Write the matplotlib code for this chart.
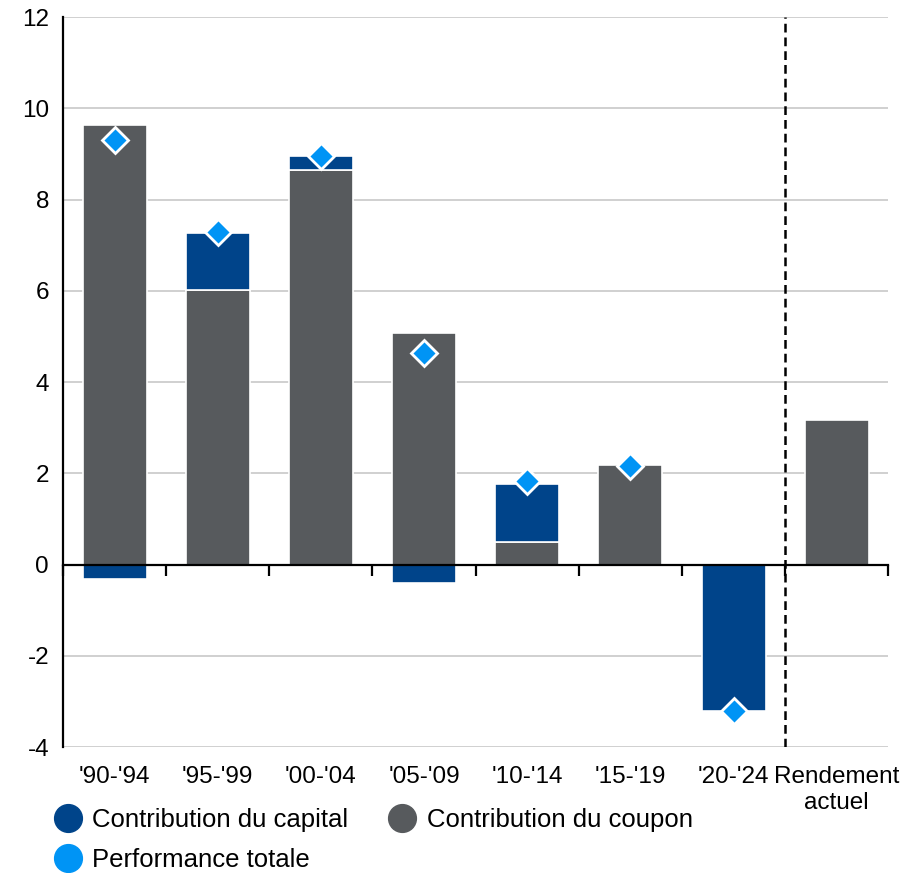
import matplotlib
matplotlib.use("Agg")
import matplotlib.pyplot as plt
import matplotlib.transforms as mtransforms
from matplotlib.lines import Line2D

categories = ["'90-'94", "'95-'99", "'00-'04", "'05-'09", "'10-'14", "'15-'19", "'20-'24", "Rendement\nactuel"]
coupon = [9.63, 6.02, 8.65, 5.08, 0.50, 2.19, 0.0, 3.17]
capital = [-0.32, 1.25, 0.31, -0.40, 1.27, 0.0, -3.20, 0.0]
total = [9.31, 7.29, 8.96, 4.64, 1.82, 2.17, -3.22, None]

DARK_BLUE = "#00448A"
GREY = "#575A5D"
LIGHT_BLUE = "#0094F5"

plt.rcParams["font.family"] = ["Liberation Sans", "DejaVu Sans"]
plt.rcParams["axes.unicode_minus"] = False


def main():
    fig = plt.figure(figsize=(9, 8.73), dpi=100)
    ax = fig.add_axes([0.07, 0.1443, 0.917, 0.8362])

    x = list(range(len(categories)))
    width = 0.62

    # coupon bars, capital stacked on top (or below zero when negative)
    ax.bar(x, coupon, width, color=GREY, edgecolor="white", linewidth=1.2, zorder=2)
    cap_bottom = [c if v > 0 else 0 for c, v in zip(coupon, capital)]
    ax.bar(x, capital, width, bottom=cap_bottom, color=DARK_BLUE,
           edgecolor="white", linewidth=1.2, zorder=2)

    tx = [i for i, t in zip(x, total) if t is not None]
    ty = [t for t in total if t is not None]
    ax.plot(tx, ty, linestyle="none", marker="D", markersize=13,
            color=LIGHT_BLUE, markeredgecolor="white", markeredgewidth=2, zorder=4)

    ax.set_xlim(-0.5, 7.5)
    ax.set_ylim(-4, 12)
    ax.set_yticks(range(-4, 13, 2))
    ax.tick_params(axis="y", length=0, labelsize=17.5, pad=10)
    ax.yaxis.grid(True, color="#D0D0D0", linewidth=1.4, zorder=0)
    ax.set_axisbelow(True)

    for s in ["top", "right"]:
        ax.spines[s].set_visible(False)
    ax.spines["left"].set_linewidth(1.6)
    ax.spines["bottom"].set_position(("data", 0))
    ax.spines["bottom"].set_linewidth(1.6)
    ax.spines["bottom"].set_zorder(3)

    ax.set_xticks([i + 0.5 for i in range(-1, 8)])
    ax.set_xticklabels([])
    ax.tick_params(axis="x", direction="out", length=8, width=1.6)

    trans = mtransforms.blended_transform_factory(ax.transData, ax.transAxes)
    for i, lab in enumerate(categories):
        ax.text(i, -0.026, lab, transform=trans, ha="center", va="top",
                fontsize=17.5, linespacing=1.25)

    ax.axvline(6.5, color="black", linestyle=(0, (3.5, 2)), linewidth=1.8, zorder=3)

    # ncol=2 fills by column, so order is capital, total | coupon
    handles = [
        Line2D([], [], linestyle="none", marker="o", markersize=20, color=DARK_BLUE),
        Line2D([], [], linestyle="none", marker="o", markersize=20, color=LIGHT_BLUE),
        Line2D([], [], linestyle="none", marker="o", markersize=20, color=GREY),
    ]
    labels = ["Contribution du capital", "Performance totale", "Contribution du coupon"]
    fig.legend(handles, labels, loc="upper left", bbox_to_anchor=(0.061, 0.074),
               ncol=2, frameon=False, fontsize=18.5, handlelength=1.0,
               handletextpad=0.45, columnspacing=1.6, labelspacing=0.6,
               borderaxespad=0, borderpad=0)

    fig.savefig("out.png", dpi=100)


if __name__ == "__main__":
    main()
